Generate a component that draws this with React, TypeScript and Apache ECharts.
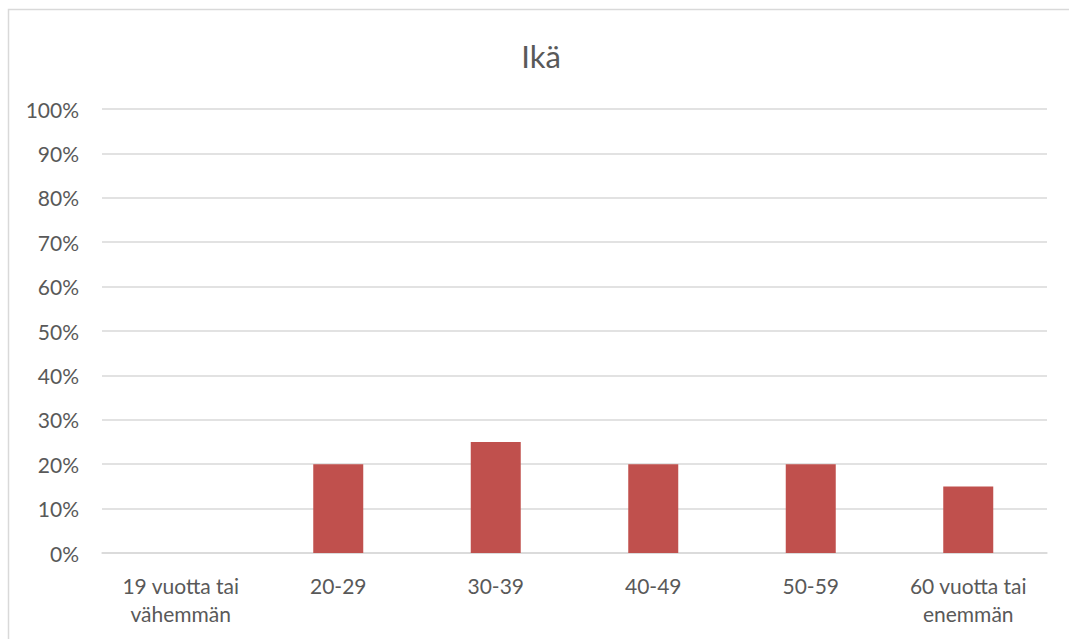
import React, { useEffect, useRef } from "react";
import * as echarts from "echarts";

const categories = ["19 vuotta tai\nvähemmän", "20-29", "30-39", "40-49", "50-59", "60 vuotta tai\nenemmän"];
const values = [0, 20, 25, 20, 20, 15];
const chartTitle = "Ikä";

export default function App() {
  const ref = useRef<HTMLDivElement>(null);
  useEffect(() => {
    if (!ref.current) return;
    const chart = echarts.init(ref.current, null, { renderer: "svg" });
    const font = "Lato, 'Noto Sans', sans-serif";
    chart.setOption({
      animation: false,
      backgroundColor: "#ffffff",
      title: {
        text: chartTitle,
        left: 536,
        textAlign: "center",
        top: 35,
        textStyle: { fontFamily: font, fontSize: 31, fontWeight: "normal", color: "#595959" },
      },
      graphic: [
        {
          type: "rect",
          shape: { x: 8.5, y: 9.5, width: 1080, height: 660 },
          style: { fill: "none", stroke: "#d9d9d9", lineWidth: 1.5 },
          silent: true,
        },
      ],
      grid: { left: 102, right: 22, top: 109, bottom: 86 },
      xAxis: {
        type: "category",
        data: categories,
        axisLine: { show: true, lineStyle: { color: "#d9d9d9", width: 1.5 } },
        axisTick: { show: false },
        axisLabel: {
          color: "#595959",
          fontFamily: font,
          fontSize: 21,
          lineHeight: 28,
          margin: 18,
          interval: 0,
        },
      },
      yAxis: {
        type: "value",
        min: 0,
        max: 100,
        interval: 10,
        axisLine: { show: false },
        axisTick: { show: false },
        splitLine: { lineStyle: { color: "#d9d9d9", width: 1.5 } },
        axisLabel: {
          color: "#595959",
          fontFamily: font,
          fontSize: 21,
          margin: 23,
          formatter: "{value}%",
        },
      },
      series: [
        {
          type: "bar",
          data: values,
          barWidth: 50,
          itemStyle: { color: "#C0504D" },
        },
      ],
    });
    return () => chart.dispose();
  }, []);
  return (
    <div
      ref={ref}
      style={{ position: "absolute", left: 0, top: 0, width: 1069, height: 639 }}
    />
  );
}
